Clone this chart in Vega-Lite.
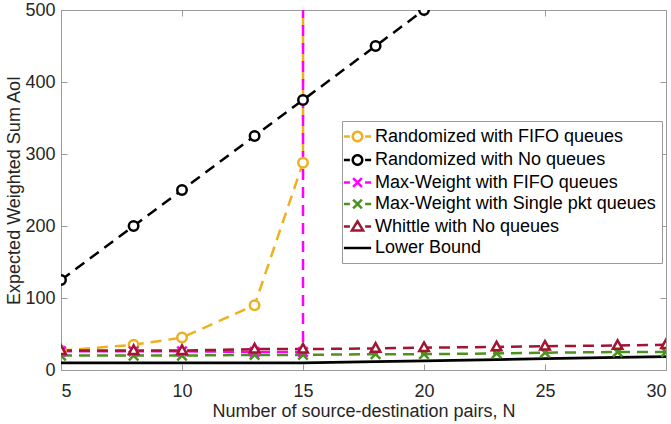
{
  "$schema": "https://vega.github.io/schema/vega-lite/v6.json",
  "width": 605,
  "height": 360,
  "autosize": "none",
  "padding": {"left": 61, "top": 10, "right": 5, "bottom": 54},
  "background": "white",
  "config": {
    "font": "Liberation Sans",
    "view": {"stroke": "#9a9a9a", "strokeWidth": 1},
    "axis": {
      "labelFont": "Liberation Sans",
      "titleFont": "Liberation Sans",
      "labelFontSize": 18,
      "titleFontSize": 18,
      "titleFontWeight": "normal",
      "labelColor": "#262626",
      "titleColor": "#262626",
      "domainColor": "#9a9a9a",
      "tickColor": "#9a9a9a",
      "grid": false
    },
    "legend": {
      "labelFont": "Liberation Sans",
      "labelFontSize": 18,
      "labelColor": "#000000",
      "labelLimit": 0
    }
  },
  "resolve": {"axis": {"x": "independent", "y": "independent"}},
  "data": {
    "values": [
      {"s": "Randomized with FIFO queues", "N": 5, "v": 27},
      {"s": "Randomized with FIFO queues", "N": 8, "v": 35},
      {"s": "Randomized with FIFO queues", "N": 10, "v": 45},
      {"s": "Randomized with FIFO queues", "N": 13, "v": 90},
      {"s": "Randomized with FIFO queues", "N": 15, "v": 288},
      {"s": "Randomized with FIFO queues", "N": 18, "v": 1000000},
      {"s": "Randomized with No queues", "N": 5, "v": 125},
      {"s": "Randomized with No queues", "N": 8, "v": 200},
      {"s": "Randomized with No queues", "N": 10, "v": 250},
      {"s": "Randomized with No queues", "N": 13, "v": 325},
      {"s": "Randomized with No queues", "N": 15, "v": 375},
      {"s": "Randomized with No queues", "N": 18, "v": 450},
      {"s": "Randomized with No queues", "N": 20, "v": 500},
      {"s": "Max-Weight with FIFO queues", "N": 5, "v": 26},
      {"s": "Max-Weight with FIFO queues", "N": 8, "v": 26},
      {"s": "Max-Weight with FIFO queues", "N": 10, "v": 26},
      {"s": "Max-Weight with FIFO queues", "N": 13, "v": 25},
      {"s": "Max-Weight with FIFO queues", "N": 15, "v": 25},
      {"s": "Max-Weight with FIFO queues", "N": 18, "v": 1000000},
      {"s": "Max-Weight with Single pkt queues", "N": 5, "v": 20},
      {"s": "Max-Weight with Single pkt queues", "N": 8, "v": 20},
      {"s": "Max-Weight with Single pkt queues", "N": 10, "v": 20},
      {"s": "Max-Weight with Single pkt queues", "N": 13, "v": 21},
      {"s": "Max-Weight with Single pkt queues", "N": 15, "v": 21},
      {"s": "Max-Weight with Single pkt queues", "N": 18, "v": 22},
      {"s": "Max-Weight with Single pkt queues", "N": 20, "v": 22},
      {"s": "Max-Weight with Single pkt queues", "N": 23, "v": 23},
      {"s": "Max-Weight with Single pkt queues", "N": 25, "v": 24},
      {"s": "Max-Weight with Single pkt queues", "N": 28, "v": 25},
      {"s": "Max-Weight with Single pkt queues", "N": 30, "v": 25},
      {"s": "Whittle with No queues", "N": 5, "v": 27},
      {"s": "Whittle with No queues", "N": 8, "v": 27},
      {"s": "Whittle with No queues", "N": 10, "v": 27},
      {"s": "Whittle with No queues", "N": 13, "v": 29},
      {"s": "Whittle with No queues", "N": 15, "v": 29},
      {"s": "Whittle with No queues", "N": 18, "v": 30},
      {"s": "Whittle with No queues", "N": 20, "v": 31},
      {"s": "Whittle with No queues", "N": 23, "v": 32},
      {"s": "Whittle with No queues", "N": 25, "v": 33},
      {"s": "Whittle with No queues", "N": 28, "v": 34},
      {"s": "Whittle with No queues", "N": 30, "v": 35},
      {"s": "Lower Bound", "N": 5, "v": 10},
      {"s": "Lower Bound", "N": 8, "v": 10},
      {"s": "Lower Bound", "N": 10, "v": 10},
      {"s": "Lower Bound", "N": 13, "v": 10},
      {"s": "Lower Bound", "N": 15, "v": 10},
      {"s": "Lower Bound", "N": 18, "v": 11.7},
      {"s": "Lower Bound", "N": 20, "v": 12.8},
      {"s": "Lower Bound", "N": 23, "v": 14.5},
      {"s": "Lower Bound", "N": 25, "v": 15.7},
      {"s": "Lower Bound", "N": 28, "v": 17.4},
      {"s": "Lower Bound", "N": 30, "v": 18.5}
    ]
  },
  "encoding": {
    "color": {
      "field": "s", "type": "nominal",
      "scale": {
        "domain": ["Randomized with FIFO queues", "Randomized with No queues", "Max-Weight with FIFO queues", "Max-Weight with Single pkt queues", "Whittle with No queues", "Lower Bound"],
        "range": ["#EDB120", "#000000", "#FF00FF", "#4B921E", "#A2142F", "#000000"]
      },
      "legend": {
        "title": null,
        "orient": "none",
        "legendX": 281,
        "legendY": 111,
        "padding": 6,
        "strokeColor": "#9a9a9a",
        "fillColor": "white",
        "symbolSize": 256,
        "symbolStrokeWidth": 2.5,
        "labelOffset": 8,
        "rowPadding": 2.5,
        "encode": {
          "symbols": {
            "update": {
              "shape": {"signal": "(datum.value === 'Randomized with FIFO queues' || datum.value === 'Randomized with No queues') ? 'M-1.7,0H-0.95M0.6,0L0.554,0.23L0.424,0.424L0.23,0.554L0,0.6L-0.23,0.554L-0.424,0.424L-0.554,0.23L-0.6,0L-0.554,-0.23L-0.424,-0.424L-0.23,-0.554L0,-0.6L0.23,-0.554L0.424,-0.424L0.554,-0.23ZM0.95,0H1.7' : (datum.value === 'Max-Weight with FIFO queues' || datum.value === 'Max-Weight with Single pkt queues') ? 'M-1.7,0H-0.95M-0.55,-0.55L0.55,0.55M-0.55,0.55L0.55,-0.55M0.95,0H1.7' : datum.value === 'Whittle with No queues' ? 'M-1.7,0H-0.95M0,-0.65L0.7,0.5L-0.7,0.5ZM0.95,0H1.7' : 'M-1.7,0H1.7'"},
              "fill": {"value": "white"},
              "strokeWidth": {"value": 2.5},
              "strokeDash": {"value": [1, 0]}
            }
          }
        }
      }
    }
  },
  "layer": [
    {
      "transform": [{"filter": "datum.s === 'Lower Bound'"}],
      "mark": {"type": "line", "strokeWidth": 2.8, "clip": true},
      "encoding": {
        "x": {
          "field": "N", "type": "quantitative",
          "scale": {"domain": [5, 30], "nice": false, "zero": false},
          "axis": {"orient": "bottom", "values": [5, 10, 15, 20, 25, 30], "tickSize": -6, "labelPadding": 18, "title": "Number of source-destination pairs, N", "titlePadding": 2}
        },
        "y": {
          "field": "v", "type": "quantitative",
          "scale": {"domain": [0, 500], "nice": false},
          "axis": {"orient": "left", "values": [0, 100, 200, 300, 400, 500], "tickSize": -6, "labelPadding": 12, "title": "Expected Weighted Sum AoI", "titleX": -38, "titleY": 180}
        }
      }
    },
    {
      "transform": [{"filter": "datum.s !== 'Lower Bound'"}],
      "mark": {"type": "line", "strokeWidth": 2.5, "strokeDash": [11, 7], "clip": true},
      "encoding": {
        "x": {
          "field": "N", "type": "quantitative",
          "scale": {"domain": [5, 30], "nice": false, "zero": false},
          "axis": null
        },
        "y": {
          "field": "v", "type": "quantitative",
          "scale": {"domain": [0, 500], "nice": false},
          "axis": null
        }
      }
    },
    {
      "transform": [{"filter": "datum.s !== 'Lower Bound'"}],
      "mark": {"type": "point", "filled": false, "fill": "white", "fillOpacity": 1, "strokeWidth": 2.5, "clip": true},
      "encoding": {
        "x": {
          "field": "N", "type": "quantitative",
          "scale": {"domain": [5, 30], "nice": false, "zero": false},
          "axis": {"orient": "top", "values": [5, 10, 15, 20, 25, 30], "tickSize": -6, "labels": false, "title": null, "domain": false}
        },
        "y": {
          "field": "v", "type": "quantitative",
          "scale": {"domain": [0, 500], "nice": false},
          "axis": {"orient": "right", "values": [0, 100, 200, 300, 400, 500], "tickSize": -6, "labels": false, "title": null, "domain": false}
        },
        "shape": {
          "field": "s", "type": "nominal", "legend": null,
          "scale": {
            "domain": ["Randomized with FIFO queues", "Randomized with No queues", "Max-Weight with FIFO queues", "Max-Weight with Single pkt queues", "Whittle with No queues"],
            "range": ["circle", "circle", "M-1,-1L1,1M-1,1L1,-1", "M-1,-1L1,1M-1,1L1,-1", "M0,-1.1L1,0.7L-1,0.7Z"]
          }
        },
        "size": {"value": 90}
      }
    }
  ]
}
